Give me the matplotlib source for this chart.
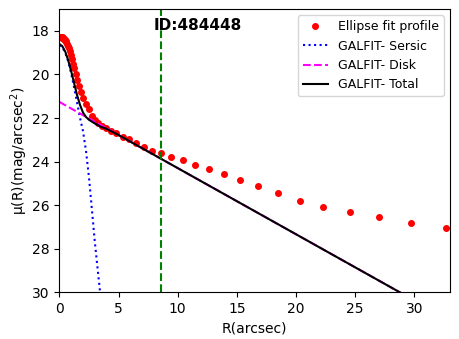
import numpy as np
from matplotlib import pyplot as plt

# ellipse fit profile
r_prof = [0.14, 0.16, 0.17, 0.19, 0.21, 0.23, 0.25, 0.27, 0.30, 0.33, 0.36, 0.40,
          0.44, 0.49, 0.54, 0.59, 0.65, 0.71, 0.79, 0.86, 0.95, 1.05, 1.15, 1.27,
          1.39, 1.53, 1.69, 1.86, 2.04, 2.25, 2.47, 2.72, 2.99, 3.29, 3.62, 3.98,
          4.38, 4.82, 5.36, 5.89, 6.48, 7.13, 7.83, 8.59, 9.46, 10.42, 11.46,
          12.61, 13.88, 15.26, 16.78, 18.47, 20.3, 22.3, 24.54, 26.99, 29.69, 32.67]
mu_prof = [18.3, 18.3, 18.3, 18.3, 18.3, 18.3, 18.31, 18.31, 18.32, 18.33, 18.35, 18.37,
           18.4, 18.42, 18.45, 18.5, 18.58, 18.68, 18.8, 18.93, 19.1, 19.3, 19.5, 19.72,
           19.97, 20.25, 20.55, 20.82, 21.06, 21.35, 21.6, 21.9, 22.1, 22.25, 22.35, 22.45,
           22.58, 22.70, 22.86, 22.98, 23.16, 23.33, 23.50, 23.61, 23.78, 23.95, 24.15,
           24.33, 24.59, 24.85, 25.11, 25.43, 25.80, 26.08, 26.32, 26.54, 26.83, 27.04]

# GALFIT components
r_sersic = [0, 0.25, 0.5, 0.75, 1.0, 1.25, 1.5, 1.75, 2.0, 2.25, 2.5, 2.75, 3.0, 3.25, 3.5]
mu_sersic = [18.65, 18.75, 19.0, 19.4, 19.95, 20.6, 21.3, 22.0, 22.6, 23.5, 24.7, 26.2,
             27.7, 29.0, 30.3]

r_disk = [0, 33]
mu_disk = [21.26, 31.29]

r_total = [0, 0.25, 0.5, 0.75, 1.0, 1.25, 1.5, 1.75, 2.0, 2.25, 2.5, 3.0, 3.5, 4.0, 5.0, 33]
mu_total = [18.6, 18.7, 18.95, 19.35, 19.85, 20.4, 20.95, 21.4, 21.75, 21.95, 22.08,
            22.25, 22.4, 22.5, 22.78, 31.29]

r_cut = 8.6
gal_id = 484448

fig = plt.figure(figsize=(4.6, 3.39), dpi=100)
ax = fig.add_axes([0.129, 0.138, 0.849, 0.835])

ax.plot(r_prof, mu_prof, 'o', color='red', ms=4, label='Ellipse fit profile')
ax.plot(r_sersic, mu_sersic, ':', color='blue', lw=1.5, label='GALFIT- Sersic')
ax.plot(r_disk, mu_disk, '--', color='magenta', lw=1.5, label='GALFIT- Disk')
ax.plot(r_total, mu_total, '-', color='black', lw=1.5, label='GALFIT- Total')
ax.axvline(r_cut, color='green', ls='--', lw=1.5)

ax.text(8.0, 17.75, 'ID:%d' % gal_id, fontsize=11, fontweight='bold', va='center')

ax.set_xlim(0, 33)
ax.set_ylim(30, 17)
ax.set_yticks(np.arange(18, 31, 2))
ax.set_xlabel('R(arcsec)')
ax.set_ylabel(r'μ(R)(mag/arcsec$^2$)', labelpad=1)
ax.legend(loc='upper right', fontsize=9)

fig.savefig('out.png', dpi=100)
